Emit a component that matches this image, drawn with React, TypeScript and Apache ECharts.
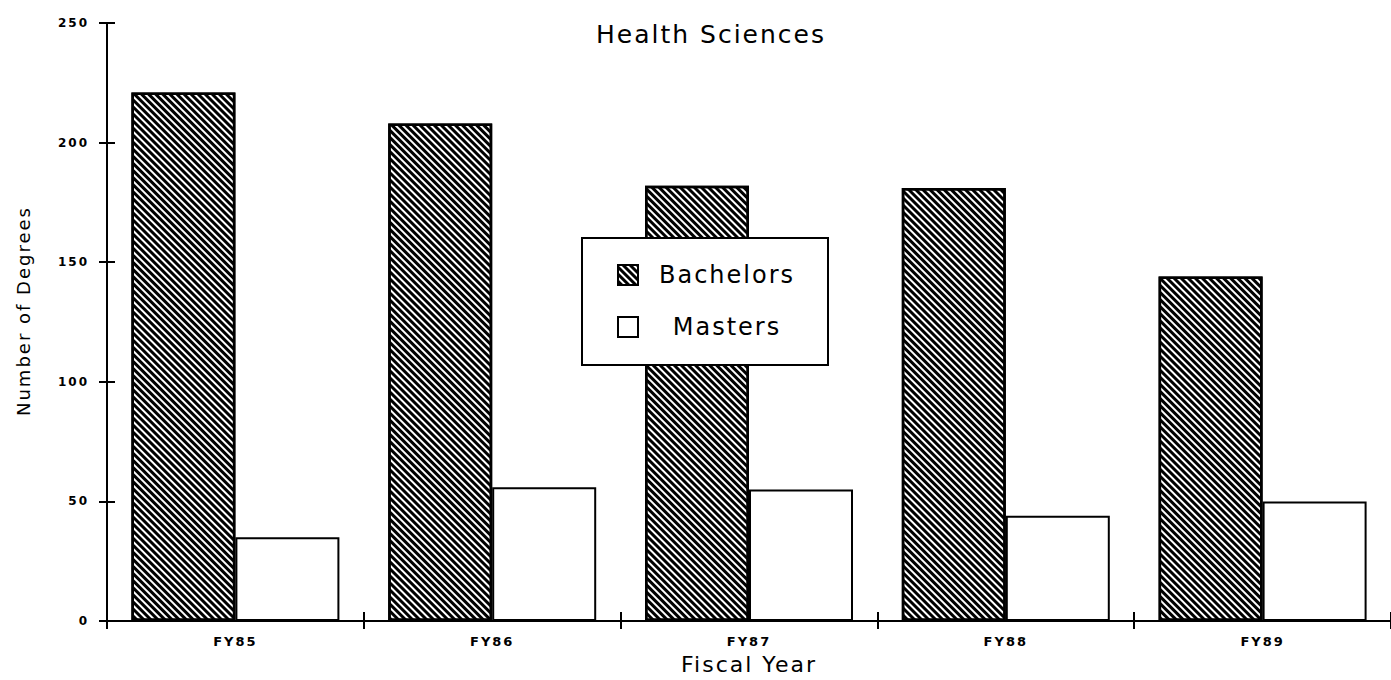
import React, { useEffect, useRef } from "react";
import * as echarts from "echarts";

const categories = ["FY85", "FY86", "FY87", "FY88", "FY89"];
const bachelors = [221, 208, 182, 181, 144];
const masters = [35, 56, 55, 44, 50];
const seriesNames = ["Bachelors", "Masters"];
const titleText = "Health Sciences";
const xName = "Fiscal Year";
const yName = "Number of Degrees";
const yMin = 0;
const yMax = 250;
const yStep = 50;

const FONT = "DejaVu Sans, Verdana, sans-serif";

export default function App() {
  const ref = useRef<HTMLDivElement>(null);
  useEffect(() => {
    if (!ref.current) return;
    const chart = echarts.init(ref.current, null, { renderer: "svg" });
    const hatch = {
      symbol: "rect",
      symbolSize: 1,
      color: "#000",
      dashArrayX: [1, 0],
      dashArrayY: [3, 2],
      rotation: Math.PI / 4,
    };
    const axisBase = {
      type: "category",
      data: categories,
      position: "bottom",
      boundaryGap: true,
    };
    chart.setOption({
      animation: false,
      backgroundColor: "#fff",
      textStyle: { fontFamily: FONT, color: "#000" },
      grid: { left: 107, right: -11, top: 23, bottom: 53, containLabel: false },
      graphic: [
        {
          type: "text",
          x: 711,
          y: 34,
          style: {
            text: titleText,
            fontSize: 25,
            fontFamily: FONT,
            fill: "#000",
            textAlign: "center",
            textVerticalAlign: "middle",
          },
        },
        {
          type: "text",
          x: 23,
          y: 311,
          rotation: Math.PI / 2,
          style: {
            text: yName,
            fontSize: 18,
            fontFamily: FONT,
            fill: "#000",
            textAlign: "center",
            textVerticalAlign: "middle",
          },
        },
      ],
      legend: {
        data: seriesNames,
        orient: "vertical",
        left: 582,
        top: 238,
        padding: [25, 17, 26, 35],
        icon: "rect",
        itemWidth: 20,
        itemHeight: 20,
        itemGap: 28,
        backgroundColor: "#fff",
        borderColor: "#000",
        borderWidth: 2,
        borderRadius: 0,
        z: 10,
        formatter: (name: string) => `{n|${name}}`,
        textStyle: {
          fontFamily: FONT,
          color: "#000",
          rich: {
            n: {
              width: 168,
              align: "center",
              fontSize: 24,
              lineHeight: 20,
              fontFamily: FONT,
              color: "#000",
            },
          },
        },
      },
      xAxis: [
        {
          ...axisBase,
          name: xName,
          nameLocation: "middle",
          nameGap: 30,
          nameTextStyle: { fontSize: 22, fontFamily: FONT, color: "#000" },
          axisLine: { lineStyle: { color: "#000", width: 2 } },
          axisTick: { show: true, inside: false, length: 8, lineStyle: { color: "#000", width: 2 } },
          axisLabel: {
            margin: 14,
            fontSize: 13,
            fontWeight: "bold",
            fontFamily: FONT,
            color: "#000",
          },
          splitLine: { show: false },
        },
        {
          ...axisBase,
          axisLine: { show: false },
          axisTick: { show: true, inside: true, length: 9, lineStyle: { color: "#000", width: 2 } },
          axisLabel: { show: false },
          splitLine: { show: false },
        },
      ],
      yAxis: [
        {
          type: "value",
          min: yMin,
          max: yMax,
          interval: yStep,
          position: "left",
          axisLine: { show: true, lineStyle: { color: "#000", width: 2 } },
          axisTick: { show: true, inside: false, length: 8, lineStyle: { color: "#000", width: 2 } },
          axisLabel: {
            margin: 18,
            fontSize: 12,
            fontWeight: "bold",
            fontFamily: FONT,
            color: "#000",
          },
          splitLine: { show: false },
        },
        {
          type: "value",
          min: yMin,
          max: yMax,
          interval: yStep,
          position: "left",
          axisLine: { show: false },
          axisTick: { show: true, inside: true, length: 8, lineStyle: { color: "#000", width: 2 } },
          axisLabel: { show: false },
          splitLine: { show: false },
        },
      ],
      series: [
        {
          name: seriesNames[0],
          type: "bar",
          data: bachelors,
          xAxisIndex: 0,
          yAxisIndex: 0,
          barWidth: 104,
          barGap: "0%",
          itemStyle: {
            color: "#fff",
            borderColor: "#000",
            borderWidth: 2.5,
            decal: hatch,
          },
        },
        {
          name: seriesNames[1],
          type: "bar",
          data: masters,
          xAxisIndex: 0,
          yAxisIndex: 0,
          barWidth: 104,
          barGap: "0%",
          itemStyle: {
            color: "#fff",
            borderColor: "#000",
            borderWidth: 2,
          },
        },
      ],
    });
    return () => chart.dispose();
  }, []);
  return (
    <div
      ref={ref}
      style={{
        position: "absolute",
        left: 0,
        top: 0,
        width: 1391,
        height: 680,
        letterSpacing: "2px",
      }}
    />
  );
}
